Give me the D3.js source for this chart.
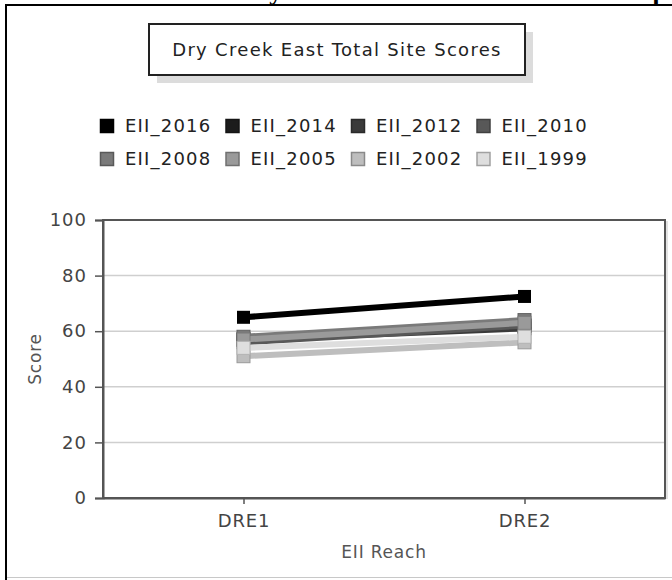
<!DOCTYPE html>
<html>
<head>
<meta charset="utf-8">
<script src="https://cdn.jsdelivr.net/npm/d3@7"></script>
<style>
  body { margin: 0; background: #fff; }
  svg { display: block; }
  text { font-family: "DejaVu Sans", sans-serif; }
</style>
</head>
<body>
<div id="graph"></div>
<script>
// data
const reaches = ["DRE1", "DRE2"];
const seriesNames = ["EII_2016", "EII_2014", "EII_2012", "EII_2010", "EII_2008", "EII_2005", "EII_2002", "EII_1999"];
const eii2016 = [65, 72.5];
const eii2014 = [57, 62];
const eii2012 = [57, 61];
const eii2010 = [56, 62];
const eii2008 = [58, 64];
const eii2005 = [57, 63];
const eii2002 = [51, 56];
const eii1999 = [54, 58];
const yTicks = [0, 20, 40, 60, 80, 100];
const greys = ["#000000", "#1c1c1c", "#3a3a3a", "#585858", "#7a7a7a", "#9a9a9a", "#bebebe", "#dedede"];

const values = [eii2016, eii2014, eii2012, eii2010, eii2008, eii2005, eii2002, eii1999];
const series = seriesNames.map((name, i) => ({
  name: name,
  color: greys[i],
  points: reaches.map((r, j) => ({reach: r, score: values[i][j]}))
}));

let width = 672, height = 580;
let margin = {top: 220, right: 7, bottom: 82, left: 103};
let plotW = width - margin.left - margin.right,
    plotH = height - margin.top - margin.bottom;

let svg = d3.select("#graph").append("svg")
    .attr("width", width)
    .attr("height", height);

// cut-off page heading above the chart (only its descenders show)
svg.append("text")
    .attr("x", 239).attr("y", 0)
    .style("font-family", "'Liberation Serif', serif")
    .style("font-weight", "bold")
    .style("font-size", "26px")
    .text("Dry Creek East Total Site Scores Graph");

// outer frame
svg.append("line").attr("x1", 6).attr("x2", 6).attr("y1", 4).attr("y2", height)
    .attr("stroke", "#000").attr("stroke-width", 2);
svg.append("line").attr("x1", 5).attr("x2", width).attr("y1", 5).attr("y2", 5)
    .attr("stroke", "#000").attr("stroke-width", 2);
svg.append("line").attr("x1", 7).attr("x2", width).attr("y1", 577.5).attr("y2", 577.5)
    .attr("stroke", "#c8c8c8").attr("stroke-width", 1);

// title box with shadow
let titleBox = {x: 149, y: 24, w: 376, h: 51};
svg.append("rect")
    .attr("x", titleBox.x + 8).attr("y", titleBox.y + 8)
    .attr("width", titleBox.w).attr("height", titleBox.h)
    .attr("fill", "#dcdcdc");
svg.append("rect")
    .attr("x", titleBox.x).attr("y", titleBox.y)
    .attr("width", titleBox.w).attr("height", titleBox.h)
    .attr("fill", "#fff").attr("stroke", "#222").attr("stroke-width", 2);
svg.append("text")
    .attr("x", titleBox.x + titleBox.w / 2).attr("y", titleBox.y + titleBox.h / 2)
    .attr("dy", "0.36em")
    .attr("text-anchor", "middle")
    .style("font-size", "18px").style("letter-spacing", "1.3px")
    .attr("fill", "#222")
    .text("Dry Creek East Total Site Scores");

// legend
let legend = svg.append("g").attr("transform", "translate(100,119)");
let item = legend.selectAll("g").data(series).enter().append("g")
    .attr("transform", (d, i) => "translate(" + (i % 4) * 125.5 + "," + Math.floor(i / 4) * 33 + ")");
item.append("rect")
    .attr("x", 0.5).attr("y", 0.5).attr("width", 13).attr("height", 13)
    .attr("fill", d => d.color)
    .attr("stroke", d => d3.color(d.color).darker(0.9))
    .attr("stroke-width", 1.5);
item.append("text")
    .attr("x", 25).attr("y", 7)
    .attr("dy", "0.36em")
    .style("font-size", "18px").style("letter-spacing", "1.2px")
    .attr("fill", "#222")
    .text(d => d.name);

let g = svg.append("g").attr("transform", "translate(" + margin.left + "," + margin.top + ")");

// set the ranges
let x = d3.scalePoint().domain(reaches).range([0, plotW]).padding(0.5);
let y = d3.scaleLinear().domain([0, 100]).range([plotH, 0]);

// gridlines
g.selectAll(".grid").data(yTicks.slice(1, -1)).enter().append("line")
    .attr("x1", 0).attr("x2", plotW)
    .attr("y1", d => y(d)).attr("y2", d => y(d))
    .attr("stroke", "#cfcfcf").attr("stroke-width", 1.5);

// plot frame
g.append("rect")
    .attr("x", 0).attr("y", 0).attr("width", plotW).attr("height", plotH)
    .attr("fill", "none").attr("stroke", "#555").attr("stroke-width", 2);
g.append("line").attr("x1", plotW + 2).attr("x2", plotW + 2).attr("y1", 1).attr("y2", plotH + 1)
    .attr("stroke", "#d8d8d8").attr("stroke-width", 1.5);

// Y axis
let yAxis = g.append("g")
    .call(d3.axisLeft(y).tickValues(yTicks).tickSize(8).tickPadding(8));
yAxis.select(".domain").attr("stroke", "#555").attr("stroke-width", 2);
yAxis.selectAll(".tick line").attr("stroke", "#555").attr("stroke-width", 1.5);
yAxis.selectAll(".tick text")
    .style("font-size", "18px").style("letter-spacing", "1px")
    .style("font-family", "'DejaVu Sans', sans-serif")
    .attr("fill", "#444");

// X axis
let xAxis = g.append("g")
    .attr("transform", "translate(0," + plotH + ")")
    .call(d3.axisBottom(x).tickSize(6).tickSizeOuter(0).tickPadding(10));
xAxis.select(".domain").attr("stroke", "#555").attr("stroke-width", 2);
xAxis.selectAll(".tick line").attr("stroke", "#555").attr("stroke-width", 1.5);
xAxis.selectAll(".tick text")
    .style("font-size", "18px").style("letter-spacing", "0.8px")
    .style("font-family", "'DejaVu Sans', sans-serif")
    .attr("fill", "#444");

// axis titles
g.append("text")
    .attr("x", plotW / 2).attr("y", plotH + 60)
    .attr("text-anchor", "middle")
    .style("font-size", "17px").style("letter-spacing", "0.8px")
    .attr("fill", "#555")
    .text("EII Reach");
g.append("text")
    .attr("transform", "translate(" + (-62) + "," + plotH / 2 + ") rotate(-90)")
    .attr("text-anchor", "middle")
    .style("font-size", "17px").style("letter-spacing", "0.8px")
    .attr("fill", "#555")
    .text("Score");

// define the line
let valueline = d3.line()
    .x(d => x(d.reach))
    .y(d => y(d.score));

let s = g.selectAll(".series").data(series).enter().append("g");
s.append("path")
    .attr("d", d => valueline(d.points))
    .attr("fill", "none")
    .attr("stroke", d => d.color)
    .attr("stroke-width", 6);
s.selectAll("rect").data(d => d.points.map(p => Object.assign({color: d.color}, p))).enter().append("rect")
    .attr("x", d => x(d.reach) - 6.5).attr("y", d => y(d.score) - 6.5)
    .attr("width", 13).attr("height", 13)
    .attr("fill", d => d.color)
    .attr("stroke", d => d.color === "#000000" ? "none" : d3.color(d.color).darker(0.6))
    .attr("stroke-width", 1);
</script>
</body>
</html>
